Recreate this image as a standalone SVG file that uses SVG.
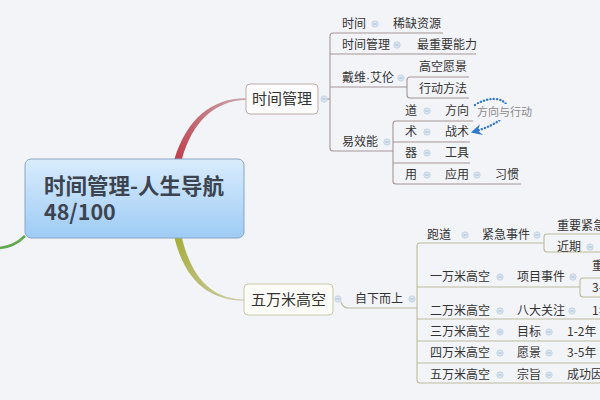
<svg xmlns="http://www.w3.org/2000/svg" width="600" height="400" viewBox="0 0 600 400">
<defs>
<linearGradient id="cgrad" x1="0" y1="0" x2="0" y2="1">
<stop offset="0" stop-color="#d9ecfd"/>
<stop offset="1" stop-color="#9ecbf4"/>
</linearGradient>
<linearGradient id="redg" gradientUnits="userSpaceOnUse" x1="178" y1="159" x2="246" y2="99">
<stop offset="0" stop-color="#c0404e"/>
<stop offset="1" stop-color="#c9a4aa"/>
</linearGradient>
<linearGradient id="oliveg" gradientUnits="userSpaceOnUse" x1="178" y1="238" x2="244" y2="300">
<stop offset="0" stop-color="#a6ae3c"/>
<stop offset="1" stop-color="#cbcca6"/>
</linearGradient>
<symbol id="btn" viewBox="-5 -5 10 10" overflow="visible">
<circle r="4" fill="#d9e5f0" stroke="#b8cadb" stroke-width="0.8"/>
<line x1="-2" y1="0" x2="2" y2="0" stroke="#9ab2c8" stroke-width="1"/>
</symbol>
<marker id="arr" viewBox="0 0 10 10" refX="8" refY="5" markerWidth="11" markerHeight="11" orient="auto" markerUnits="userSpaceOnUse">
<path d="M10,5 L0,0 L3.5,5 L0,10 Z" fill="#2f78cc"/>
</marker>
</defs>
<style>
.t{font-family:"Noto Sans CJK SC","Noto Sans",sans-serif;font-size:12px;fill:#333}
.tb{font-family:"Noto Sans CJK SC","Noto Sans",sans-serif;font-size:15px;fill:#333}
.tc{font-family:"Noto Sans CJK SC","Noto Sans",sans-serif;font-size:21.5px;font-weight:bold;fill:#3b4450}
.tl{font-family:"Noto Sans CJK SC","Noto Sans",sans-serif;font-size:11px;fill:#8a8a8a}
.ur{fill:none;stroke:#a59595;stroke-width:1.1}
.uo{fill:none;stroke:#bcbc9e;stroke-width:1.1}
</style>
<rect width="600" height="400" fill="#f3f4f8"/>

<g id="connectors">
<path d="M174.5,159 C187,118 213,98 246,98.3 L246,99.7 C215,100.5 192,122 182,159 Z" fill="url(#redg)"/>
<path d="M174.5,238 C186,284 212,300.6 244,300.6 L244,299.4 C214,299.4 192,280 182,238 Z" fill="url(#oliveg)"/>
<path d="M0,248 C10,247 18,243 25,236" fill="none" stroke="#62a84c" stroke-width="2.5"/>
<path class="ur" d="M324,99 H330"/>
<path class="ur" d="M443,33 H333 Q330,33 330,36 V148 Q330,151 333,151 H393"/>
<path class="ur" d="M330,54 H476"/>
<path class="ur" d="M330,87 H407"/>
<path class="ur" d="M469,77 H410 Q407,77 407,80 V95 Q407,98 410,98 H469"/>
<path class="ur" d="M473,121 H396 Q393,121 393,124 V181 Q393,184 396,184 H521"/>
<path class="ur" d="M393,142 H470"/>
<path class="ur" d="M393,163 H470"/>
<path class="uo" d="M341,302 Q343,308 348,308 H417"/>
<path class="uo" d="M544,243 H420 Q417,243 417,246 V380 Q417,383 420,383 H600"/>
<path class="uo" d="M417,287 H580"/>
<path class="uo" d="M417,319 H600"/>
<path class="uo" d="M417,341 H600"/>
<path class="uo" d="M417,363 H600"/>
<path class="uo" d="M600,234 H547 Q544,234 544,237 V249 Q544,252 547,252 H600"/>
<path class="uo" d="M600,278 H583 Q580,278 580,281 V294 Q580,297 583,297 H600"/>
<path d="M475,105 C505,86 530,116 473,132" fill="none" stroke="#2f78cc" stroke-width="2.4" stroke-dasharray="0.1 3.2" stroke-linecap="round" marker-end="url(#arr)"/>
</g>

<g id="central">
<rect x="25" y="159" width="219" height="79" rx="6" fill="url(#cgrad)" stroke="#87a6c3" stroke-width="1"/>
<text class="tc" x="44" y="194">时间管理-人生导航</text>
<text class="tc" x="44" y="220">48/100</text>
</g>

<g id="n-shijianguanli">
<rect x="246" y="84" width="72" height="30" rx="4" fill="#fcfcfc" stroke="#bcaaaa" stroke-width="1"/>
<text class="tb" x="282" y="104" text-anchor="middle">时间管理</text>
<use href="#btn" x="320" y="95" width="8" height="8"/>
</g>

<g id="n-top-items">
<text class="t" x="342" y="28">时间</text>
<use href="#btn" x="371" y="20" width="8" height="8"/>
<text class="t" x="393" y="28">稀缺资源</text>
<text class="t" x="342" y="49">时间管理</text>
<use href="#btn" x="393" y="41" width="8" height="8"/>
<text class="t" x="417" y="49">最重要能力</text>
<text class="t" x="342" y="82">戴维<tspan font-family="Liberation Sans">·</tspan>艾伦</text>
<use href="#btn" x="397" y="74" width="8" height="8"/>
<text class="t" x="419" y="71">高空愿景</text>
<text class="t" x="419" y="93">行动方法</text>
<text class="t" x="342" y="146">易效能</text>
<use href="#btn" x="383" y="138" width="8" height="8"/>
<text class="t" x="405" y="115">道</text>
<use href="#btn" x="423" y="107" width="8" height="8"/>
<text class="t" x="445" y="115">方向</text>
<text class="t" x="405" y="136">术</text>
<use href="#btn" x="423" y="128" width="8" height="8"/>
<text class="t" x="445" y="136">战术</text>
<text class="t" x="405" y="157">器</text>
<use href="#btn" x="423" y="149" width="8" height="8"/>
<text class="t" x="445" y="157">工具</text>
<text class="t" x="405" y="179">用</text>
<use href="#btn" x="423" y="171" width="8" height="8"/>
<text class="t" x="445" y="179">应用</text>
<use href="#btn" x="473" y="171" width="8" height="8"/>
<text class="t" x="495" y="179">习惯</text>
</g>

<g id="rel-label">
<rect x="476" y="104" width="56" height="16" fill="#f3f4f8"/>
<text class="tl" x="477" y="116">方向与行动</text>
</g>

<g id="n-wuwanmi">
<rect x="244" y="284" width="89" height="31" rx="4" fill="#fcfcf8" stroke="#c9c9a8" stroke-width="1"/>
<text class="tb" x="288.5" y="305" text-anchor="middle">五万米高空</text>
<use href="#btn" x="334" y="295" width="8" height="8"/>
</g>

<g id="n-bottom-items">
<text class="t" x="355" y="303">自下而上</text>
<use href="#btn" x="408" y="295" width="8" height="8"/>
<text class="t" x="427" y="239">跑道</text>
<use href="#btn" x="461" y="231" width="8" height="8"/>
<text class="t" x="482" y="239">紧急事件</text>
<use href="#btn" x="533" y="231" width="8" height="8"/>
<text class="t" x="557" y="230">重要紧急</text>
<text class="t" x="557" y="251">近期</text>
<use href="#btn" x="586" y="243" width="8" height="8"/>
<text class="t" x="430" y="281">一万米高空</text>
<use href="#btn" x="496" y="273" width="8" height="8"/>
<text class="t" x="517" y="281">项目事件</text>
<use href="#btn" x="569" y="273" width="8" height="8"/>
<text class="t" x="592" y="270">重要</text>
<text class="t" x="592" y="292">3-</text>
<text class="t" x="430" y="315">二万米高空</text>
<use href="#btn" x="496" y="307" width="8" height="8"/>
<text class="t" x="517" y="315">八大关注</text>
<use href="#btn" x="568" y="307" width="8" height="8"/>
<text class="t" x="592" y="315">1年</text>
<text class="t" x="430" y="336">三万米高空</text>
<use href="#btn" x="496" y="328" width="8" height="8"/>
<text class="t" x="517" y="336">目标</text>
<use href="#btn" x="545" y="328" width="8" height="8"/>
<text class="t" x="567" y="336">1-2年</text>
<text class="t" x="430" y="357">四万米高空</text>
<use href="#btn" x="496" y="349" width="8" height="8"/>
<text class="t" x="517" y="357">愿景</text>
<use href="#btn" x="545" y="349" width="8" height="8"/>
<text class="t" x="567" y="357">3-5年</text>
<text class="t" x="430" y="379">五万米高空</text>
<use href="#btn" x="496" y="371" width="8" height="8"/>
<text class="t" x="517" y="379">宗旨</text>
<use href="#btn" x="545" y="371" width="8" height="8"/>
<text class="t" x="567" y="379">成功因</text>
</g>
</svg>
